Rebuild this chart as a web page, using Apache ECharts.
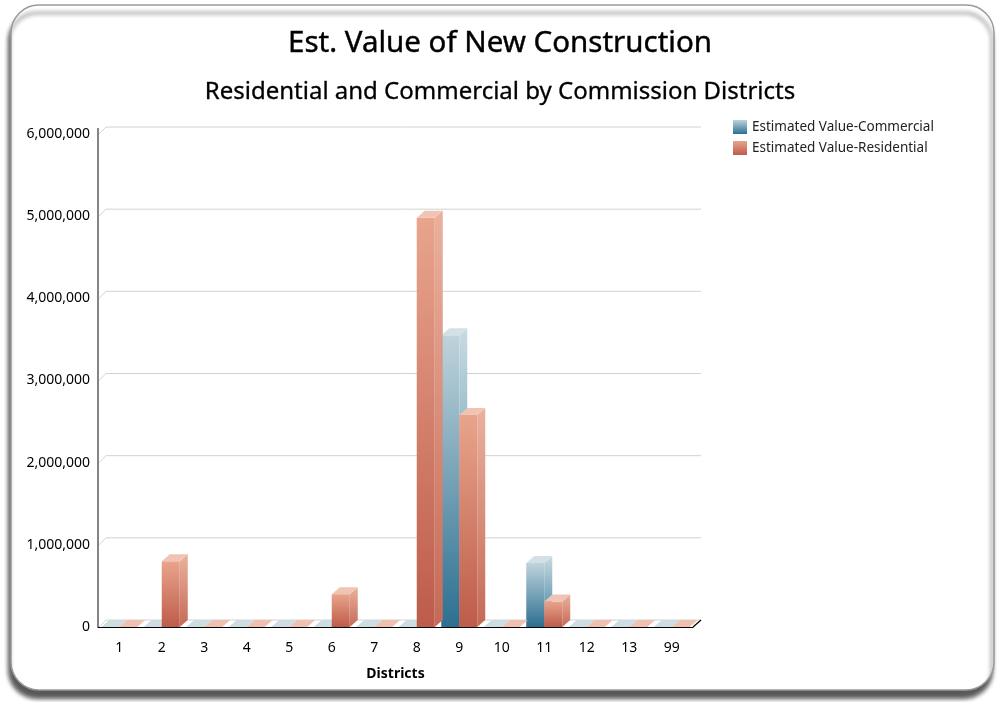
<!DOCTYPE html>
<html>
<head>
<meta charset="utf-8">
<script src="https://cdn.jsdelivr.net/npm/echarts@6/dist/echarts.min.js"></script>
<style>
html,body{margin:0;padding:0;background:#fff;}
#chart{width:1000px;height:702px;}
</style>
</head>
<body>
<div id="chart"></div>
<script>
const categories = ['1','2','3','4','5','6','7','8','9','10','11','12','13','99'];
const commercial = [0,0,0,0,0,0,0,0,3550000,0,780000,0,0,0];
const residential = [0,800000,0,0,0,400000,0,4980000,2580000,0,310000,0,0,0];
const yTicks = [0,1000000,2000000,3000000,4000000,5000000,6000000];
const seriesNames = ['Estimated Value-Commercial','Estimated Value-Residential'];

const DX = 8, DY = 7, BW = 18;
const FONT = '"Noto Sans", "Open Sans", sans-serif';

const palette = [
  { front: ['#bfd4dc','#2c6f91'], side: ['#c8dbe2','#3a7d9c'], top: '#d3e1e6', flat: '#cddde2' },
  { front: ['#e9a48c','#bd5c4a'], side: ['#eab19d','#c46a57'], top: '#f0c4b4', flat: '#eec1b1' }
];
function vgrad(c){ return new echarts.graphic.LinearGradient(0,0,0,1,[{offset:0,color:c[0]},{offset:1,color:c[1]}]); }

function barRender(sIdx){
  return function(params, api){
    const i = api.value(0), v = api.value(1);
    const top = api.coord([i, v]);
    const base = api.coord([i, 0]);
    const x0 = sIdx === 0 ? top[0] - BW : top[0];
    const yb = base[1], yt = top[1];
    const p = palette[sIdx];
    if (v <= 0) {
      return { type:'polygon', shape:{ points:[[x0,yb],[x0+DX,yb-DY],[x0+BW+DX,yb-DY],[x0+BW,yb]] },
        style:{ fill:p.flat } };
    }
    return { type:'group', children:[
      { type:'rect', shape:{ x:x0, y:yt, width:BW, height:yb-yt }, style:{ fill: vgrad(p.front) } },
      { type:'polygon', shape:{ points:[[x0+BW,yt],[x0+BW+DX,yt-DY],[x0+BW+DX,yb-DY],[x0+BW,yb]] }, style:{ fill: vgrad(p.side) } },
      { type:'polygon', shape:{ points:[[x0,yt],[x0+DX,yt-DY],[x0+BW+DX,yt-DY],[x0+BW,yt]] }, style:{ fill: p.top } }
    ]};
  };
}

function gridRender(params, api){
  const cs = params.coordSys;
  const v = api.value(1);
  const y = api.coord([0, v])[1];
  return { type:'polyline', shape:{ points:[[cs.x+1,y],[cs.x+DX,y-DY],[cs.x+cs.width+DX,y-DY]] },
    style:{ stroke:'#d2d2d2', lineWidth:1, fill:null } };
}

function frameRender(params, api){
  const cs = params.coordSys;
  const yb = cs.y + cs.height;
  const xr = cs.x + cs.width;
  return { type:'group', children:[
    { type:'polyline', shape:{ points:[[xr,yb],[xr+DX,yb-DY]] }, style:{ stroke:'#000', lineWidth:1.2, fill:null } },
    { type:'line', shape:{ x1:cs.x, y1:yb, x2:cs.x, y2:cs.y-6 }, style:{ stroke:'#333', lineWidth:1.2 } }
  ]};
}

const chart = echarts.init(document.getElementById('chart'), null, { renderer:'canvas' });
const option = {
  animation:false,
  backgroundColor:'#fff',
  graphic:[
    { type:'rect', z:-10, shape:{ x:11, y:5, width:983, height:685, r:28 },
      style:{ fill:'#fff', stroke:'#9a9a9a', lineWidth:1.5, shadowColor:'rgba(0,0,0,0.65)', shadowBlur:4, shadowOffsetX:-2, shadowOffsetY:8 } }
  ],
  title:[
    { text:'Est. Value of New Construction', left:'center', top:24,
      textStyle:{ fontFamily:FONT, fontSize:29.5, fontWeight:'normal', color:'#000',
        textBorderColor:'#000', textBorderWidth:0.4 } },
    { text:'Residential and Commercial by Commission Districts', left:'center', top:75,
      textStyle:{ fontFamily:FONT, fontSize:24, fontWeight:'normal', color:'#000',
        textBorderColor:'#000', textBorderWidth:0.3 } }
  ],
  legend:{
    orient:'vertical', left:728, top:115, itemWidth:14, itemHeight:14, itemGap:7,
    icon:'rect',
    textStyle:{ fontFamily:FONT, fontSize:13.5, color:'#222' },
    data: seriesNames
  },
  grid:{ left:98, right:307, top:134, bottom:75 },
  xAxis:{
    type:'category', data:categories,
    name:'Districts', nameLocation:'middle', nameGap:40,
    nameTextStyle:{ fontFamily:FONT, fontSize:14, fontWeight:'bold', color:'#000' },
    axisLine:{ show:true, lineStyle:{ color:'#000', width:1.2 } },
    axisTick:{ show:false },
    axisLabel:{ fontFamily:FONT, fontSize:14, color:'#000', margin:14 },
    splitLine:{ show:false }
  },
  yAxis:{
    type:'value', min:0, max:6000000, interval:1000000,
    axisLine:{ show:false },
    axisTick:{ show:false },
    splitLine:{ show:false },
    axisLabel:{ fontFamily:FONT, fontSize:14, color:'#000', margin:8,
      formatter: v => v.toLocaleString('en-US') }
  },
  series:[
    { type:'custom', name:'grid3d', silent:true, z:1, renderItem:gridRender,
      data: yTicks.map(t => [0, t]), encode:{ x:0, y:1 } },
    { type:'custom', name:'frame3d', silent:true, z:5, renderItem:frameRender,
      data: [[0,0]], encode:{ x:0, y:1 } },
    { type:'custom', name:seriesNames[0], z:3, renderItem:barRender(0),
      itemStyle:{ color: vgrad(palette[0].front) },
      data: commercial.map((v,i) => [i, v]), encode:{ x:0, y:1 } },
    { type:'custom', name:seriesNames[1], z:3, renderItem:barRender(1),
      itemStyle:{ color: vgrad(palette[1].front) },
      data: residential.map((v,i) => [i, v]), encode:{ x:0, y:1 } }
  ]
};
chart.setOption(option);
</script>
</body>
</html>
